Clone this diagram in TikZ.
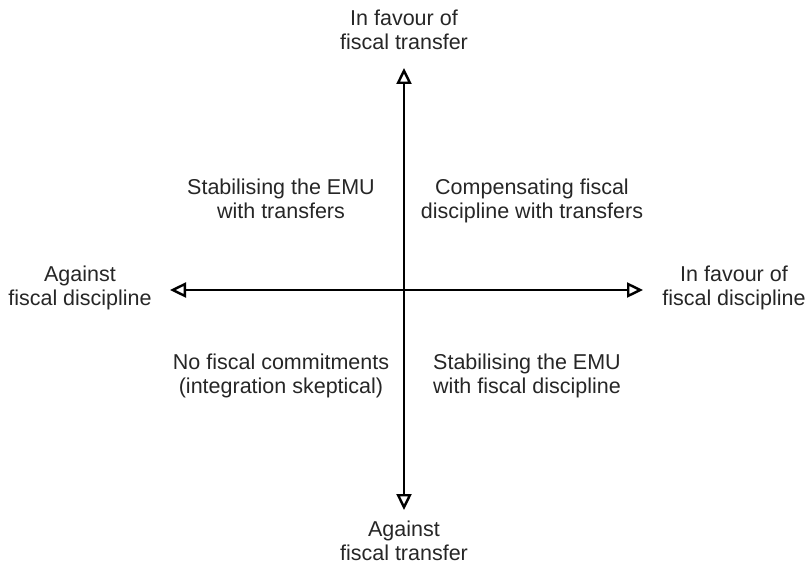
\documentclass[tikz,border=0pt]{standalone}
\usepackage{fontspec}
\setmainfont{Liberation Sans}
\usetikzlibrary{arrows.meta}
\begin{document}
\begin{tikzpicture}[x=1pt,y=-1pt,
  lbl/.style={align=center,font=\fontsize{21.5}{24}\selectfont,inner sep=0pt,text=black!85},
  axis/.style={line width=2.2pt,-{Triangle[open,length=16pt,width=15pt,line width=2.4pt]}}]
\useasboundingbox (0,0) rectangle (810,564);
\coordinate (c) at (404,290);
\coordinate (t) at (404,68);
\coordinate (b) at (404,510);
\coordinate (l) at (170,290);
\coordinate (r) at (643,290);
\draw[axis] (c) -- (t);
\draw[axis] (c) -- (b);
\draw[axis] (c) -- (l);
\draw[axis] (c) -- (r);
\node[lbl] (nt) at (404,30.2) {In favour of\\fiscal transfer};
\node[lbl] (nb) at (404,540.7) {Against\\fiscal transfer};
\node[lbl] (nl) at (80,287.9) {Against\\fiscal discipline};
\node[lbl] (nr) at (734,287.9) {In favour of\\fiscal discipline};
\node[lbl] (q1) at (281,199.2) {Stabilising the EMU\\with transfers};
\node[lbl] (q2) at (532,201.4) {Compensating fiscal\\discipline with transfers};
\node[lbl] (q3) at (281,376.2) {No fiscal commitments\\(integration skeptical)};
\node[lbl] (q4) at (527,376.2) {Stabilising the EMU\\with fiscal discipline};
\end{tikzpicture}
\end{document}
